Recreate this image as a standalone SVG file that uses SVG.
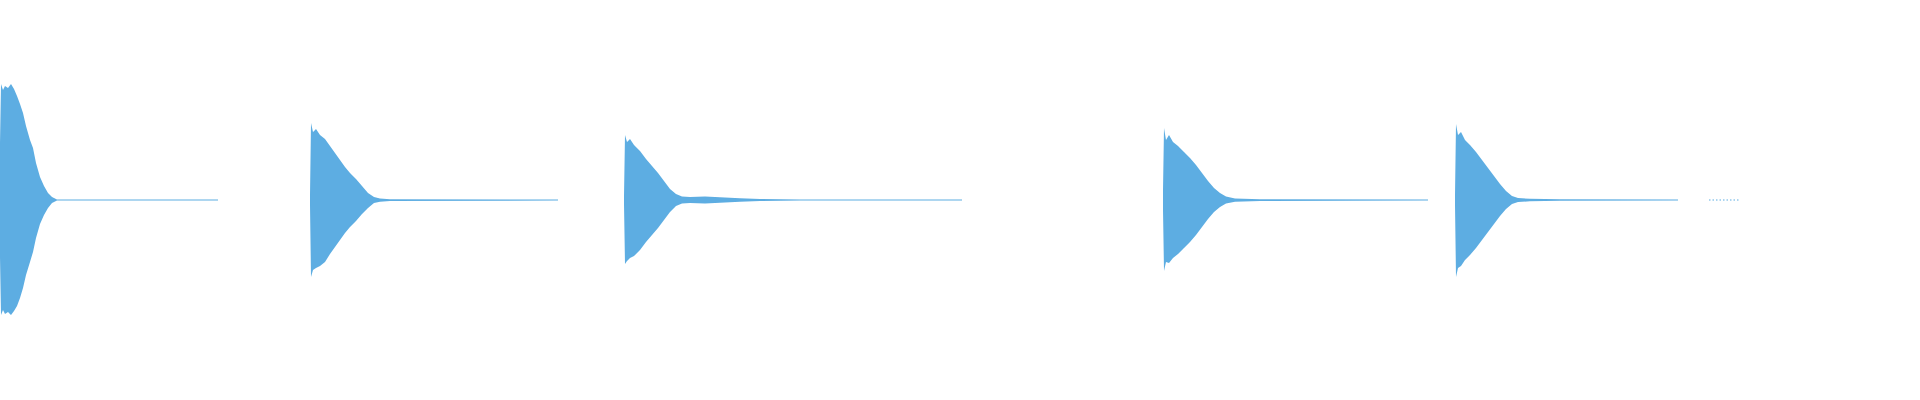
<svg xmlns="http://www.w3.org/2000/svg" width="1920" height="400" viewBox="0 0 1920 400">
<style>.w{fill:#5dade2}.l{stroke:#5dade2;stroke-width:1.2;fill:none}</style>
<rect width="1920" height="400" fill="#fff"/>
<g id="clip1">
<polygon class="w" points="0,143 1,84 3,90 5,86 8,88 11,84 14,89 17,96 20,104 23,113 26,126 30,140 33,148 36,163 40,177 44,186 48,193 52,197 57,199.5 218,199.5 218,200.5 57,200.5 52,203 48,208 44,215 40,224 36,238 33,252 30,262 26,275 23,288 20,298 17,306 14,311 11,315 8,312 5,314 3,310 1,315 0,257"/>
</g>
<g id="clip2">
<polygon class="w" points="310,195 311,123 313,132 316,129 320,135 325,139 330,146 335,153 340,160 345,167 350,173 356,179 362,186 368,193 374,197 380,198.5 390,199.2 558,199.5 558,200.5 390,201 380,201.8 374,203 368,208 362,214 356,221 350,227 345,233 340,240 335,247 330,254 325,262 320,266 316,268 313,270 311,277 310,205"/>
</g>
<g id="clip3">
<polygon class="w" points="624,196 625,135 627,142 630,139 634,145 640,151 646,159 652,166 658,173 664,181 670,189 676,194 682,196.5 690,197 705,196.5 720,197.2 740,198.2 760,199 800,199.5 962,199.6 962,200.4 800,200.5 760,201 740,201.8 720,202.8 705,203.5 690,203 682,203.5 676,206 670,212 664,220 658,228 652,235 646,242 640,250 634,256 630,258 627,261 625,264 624,204"/>
</g>
<g id="clip4">
<polygon class="w" points="1163,190 1164,128 1166,140 1169,135 1173,142 1178,146 1184,152 1190,158 1196,165 1202,173 1208,181 1214,188 1220,193 1226,196.5 1235,198.5 1260,199.2 1428,199.5 1428,200.5 1260,201 1235,201.8 1226,203.5 1220,207 1214,212 1208,219 1202,227 1196,235 1190,242 1184,248 1178,254 1173,258 1169,263 1166,262 1164,271 1163,210"/>
</g>
<g id="clip5">
<polygon class="w" points="1455,195 1456,124 1458,135 1461,132 1465,140 1470,145 1476,152 1482,160 1488,168 1494,176 1500,184 1506,191 1512,196 1518,198 1530,198.8 1560,199.3 1678,199.5 1678,200.5 1560,200.8 1530,201.3 1518,202 1512,204 1506,209 1500,216 1494,224 1488,232 1482,240 1476,248 1470,255 1465,260 1461,266 1458,268 1456,277 1455,205"/>
</g>
<g id="clip6">
<line class="l" x1="1709" y1="200" x2="1739" y2="200" stroke-dasharray="1.5 2"/>
</g>
</svg>
